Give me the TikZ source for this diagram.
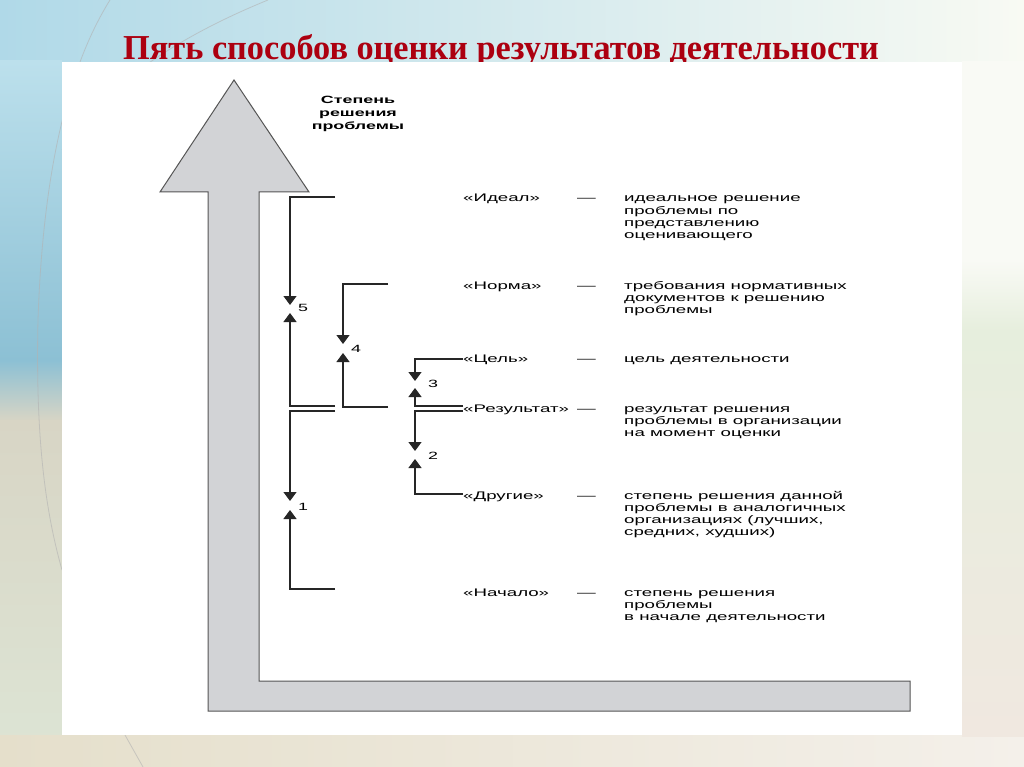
\documentclass[tikz,border=0pt]{standalone}
\usepackage{fontspec}
\setmainfont{Liberation Sans}
\newfontfamily\diagfont[FakeStretch=1.7]{Liberation Sans}
\newfontfamily\ttlfont[FakeStretch=0.98]{Liberation Serif}
\usetikzlibrary{arrows.meta}
\definecolor{titlered}{HTML}{AC0010}
\definecolor{arrowgray}{HTML}{D2D3D6}
\definecolor{edgegray}{HTML}{555555}
\definecolor{bgbase}{HTML}{E8EDE6}
\definecolor{bgtopL}{HTML}{B0D9E8}
\definecolor{bgtopR}{HTML}{F8FAF3}
\definecolor{bgleftA}{HTML}{BCE0EC}
\definecolor{bgleftB}{HTML}{8CC0D4}
\definecolor{bgleftC}{HTML}{D8D5C5}
\definecolor{bgleftD}{HTML}{DDE5D5}
\definecolor{bgbotL}{HTML}{E5DFCB}
\definecolor{bgbotR}{HTML}{F4F0EA}
\definecolor{bgrightA}{HTML}{F9FAF5}
\definecolor{bgrightB}{HTML}{E6EEDD}
\definecolor{bgrightC}{HTML}{F0E8E0}
\begin{document}
\begin{tikzpicture}[x=1pt,y=-1pt,
  lbl/.style={anchor=base west, inner sep=0pt, font=\diagfont\fontsize{11}{12.2}\selectfont},
  num/.style={anchor=west, inner sep=0pt, font=\diagfont\fontsize{10.5}{12}\selectfont},
  head/.style={anchor=base, inner sep=0pt, font=\diagfont\bfseries\fontsize{10.5}{13}\selectfont},
  conn/.style={line width=1.2pt, draw=black!85, -{Triangle[width=13pt,length=9pt]}},
  deco/.style={draw=gray!60, line width=0.8pt, opacity=0.6}]
\useasboundingbox (0,0) rectangle (1024,767);
% background
\fill[bgbase] (0,0) rectangle (1024,767);
\shade[left color=bgtopL, right color=bgtopR] (0,0) rectangle (1024,62);
\shade[top color=bgleftA, bottom color=bgleftB] (0,61) rectangle (62,361);
\shade[top color=bgleftB, bottom color=bgleftC] (0,360) rectangle (62,421);
\shade[top color=bgleftC, bottom color=bgleftD] (0,420) rectangle (62,767);
\shade[left color=bgbotL, right color=bgbotR] (0,735) rectangle (1024,767);
\fill[bgrightA] (962,61) rectangle (1024,261);
\shade[top color=bgrightA, bottom color=bgrightB] (962,260) rectangle (1024,331);
\shade[top color=bgrightB, bottom color=bgrightC] (962,330) rectangle (1024,736);
\draw[deco] (110,0) .. controls (60,80) and (42,200) .. (38,320) .. controls (35,450) and (48,520) .. (62,570);
\draw[deco] (268,0) .. controls (170,40) and (100,90) .. (62,150);
\draw[deco] (125,735) -- (143,767);
% title
\node[anchor=base west, inner sep=0pt, text=titlered, font=\ttlfont\bfseries\fontsize{35}{40}\selectfont] (title) at (123,60) {Пять способов оценки результатов деятельности};
% white panel
\fill[white] (62,62) rectangle (962,735);
% big arrow
\draw[fill=arrowgray, draw=edgegray, line width=1pt] (234,80) -- (309,192) -- (259,192) -- (259,681) -- (910,681) -- (910,711) -- (208,711) -- (208,192) -- (160,192) -- cycle;
% axis label
\node[head] (axis) at (358,104) {\begin{tabular}[t]{@{}c@{}}Степень\\решения\\проблемы\end{tabular}};
% level labels
\node[lbl] (ideal) at (463,202) {«Идеал»};
\node[lbl] (norma) at (463,289) {«Норма»};
\node[lbl] (cel) at (463,362) {«Цель»};
\node[lbl] (rez) at (463,412) {«Результат»};
\node[lbl] (drug) at (463,499) {«Другие»};
\node[lbl] (nach) at (463,596) {«Начало»};
% dashes
\node[lbl] (d1) at (577,202) {—};
\node[lbl] (d2) at (577,289) {—};
\node[lbl] (d3) at (577,362) {—};
\node[lbl] (d4) at (577,412) {—};
\node[lbl] (d5) at (577,499) {—};
\node[lbl] (d6) at (577,596) {—};
% descriptions
\node[lbl] (tIdeal) at (624,202) {\begin{tabular}[t]{@{}l@{}}идеальное решение\\проблемы по\\представлению\\оценивающего\end{tabular}};
\node[lbl] (tNorma) at (624,289) {\begin{tabular}[t]{@{}l@{}}требования нормативных\\документов к решению\\проблемы\end{tabular}};
\node[lbl] (tCel) at (624,362) {цель деятельности};
\node[lbl] (tRez) at (624,412) {\begin{tabular}[t]{@{}l@{}}результат решения\\проблемы в организации\\на момент оценки\end{tabular}};
\node[lbl] (tDrug) at (624,499) {\begin{tabular}[t]{@{}l@{}}степень решения данной\\проблемы в аналогичных\\организациях (лучших,\\средних, худших)\end{tabular}};
\node[lbl] (tNach) at (624,596) {\begin{tabular}[t]{@{}l@{}}степень решения\\проблемы\\в начале деятельности\end{tabular}};
% bracket coordinates
\coordinate (b5t) at (335,197); \coordinate (b5d) at (290,305);
\coordinate (b5b) at (335,406); \coordinate (b5u) at (290,313);
\coordinate (b4t) at (388,284); \coordinate (b4d) at (343,344);
\coordinate (b4b) at (388,407); \coordinate (b4u) at (343,353);
\coordinate (b3t) at (cel.west |- 0,359); \coordinate (b3d) at (415,381);
\coordinate (b3b) at (rez.west |- 0,406); \coordinate (b3u) at (415,388);
\coordinate (b2t) at (rez.west |- 0,411); \coordinate (b2d) at (415,451);
\coordinate (b2b) at (drug.west |- 0,494); \coordinate (b2u) at (415,459);
\coordinate (b1t) at (335,411); \coordinate (b1d) at (290,501);
\coordinate (b1b) at (335,589); \coordinate (b1u) at (290,510);
% brackets
\draw[conn] (b5t) -| (b5d);
\draw[conn] (b5b) -| (b5u);
\draw[conn] (b4t) -| (b4d);
\draw[conn] (b4b) -| (b4u);
\draw[conn] (b3t) -| (b3d);
\draw[conn] (b3b) -| (b3u);
\draw[conn] (b2t) -| (b2d);
\draw[conn] (b2b) -| (b2u);
\draw[conn] (b1t) -| (b1d);
\draw[conn] (b1b) -| (b1u);
% numbers
\node[num] (n5) at (298,308) {5};
\node[num] (n4) at (351,349) {4};
\node[num] (n3) at (428,384) {3};
\node[num] (n2) at (428,456) {2};
\node[num] (n1) at (298,507) {1};
\end{tikzpicture}
\end{document}
